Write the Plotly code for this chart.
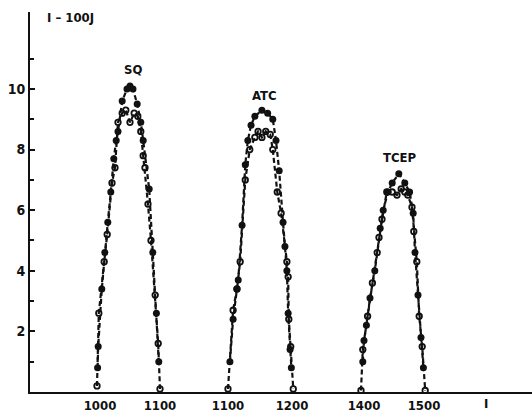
import plotly.graph_objects as go

# ---- data (wavenumber, intensity) ----
sq_filled_x = [996, 997, 1003, 1008, 1013, 1018, 1023, 1027, 1030, 1037, 1045, 1050, 1055, 1062, 1068, 1072, 1082, 1088, 1094, 1098]
sq_filled_y = [0.8, 1.5, 3.4, 4.6, 5.6, 6.6, 7.7, 8.3, 8.6, 9.6, 10.0, 10.1, 10.0, 9.5, 8.9, 8.3, 6.7, 4.6, 2.6, 1.0]
sq_open_x = [995, 998, 1007, 1012, 1020, 1025, 1030, 1037, 1043, 1050, 1057, 1063, 1068, 1072, 1075, 1080, 1085, 1092, 1097, 1100]
sq_open_y = [0.2, 2.6, 4.3, 5.2, 6.9, 7.4, 8.9, 9.2, 9.3, 8.9, 9.2, 9.1, 8.6, 7.8, 7.4, 6.2, 5.0, 3.2, 1.6, 0.1]

atc_filled_x = [1103, 1108, 1114, 1116, 1122, 1127, 1131, 1136, 1142, 1153, 1162, 1170, 1175, 1180, 1186, 1189, 1192, 1194, 1197, 1199]
atc_filled_y = [1.0, 2.4, 3.4, 3.7, 5.5, 7.5, 8.3, 8.8, 9.1, 9.3, 9.2, 9.0, 8.3, 7.3, 5.6, 4.8, 4.0, 2.6, 1.4, 0.8]
atc_open_x = [1100, 1108, 1114, 1119, 1127, 1134, 1142, 1147, 1153, 1159, 1166, 1170, 1177, 1183, 1192, 1194, 1195, 1198, 1202]
atc_open_y = [0.1, 2.7, 3.4, 4.3, 7.0, 8.0, 8.4, 8.6, 8.4, 8.6, 8.5, 8.0, 6.6, 5.9, 4.3, 3.8, 2.4, 1.5, 0.1]

tcep_filled_x = [1398, 1400, 1404, 1410, 1418, 1427, 1432, 1440, 1447, 1458, 1468, 1476, 1482, 1485, 1490, 1495, 1499]
tcep_filled_y = [1.0, 1.7, 2.2, 3.1, 4.0, 5.4, 6.0, 6.6, 6.9, 7.2, 6.9, 6.6, 5.9, 4.6, 3.2, 1.8, 0.8]
tcep_open_x = [1395, 1398, 1406, 1414, 1422, 1425, 1430, 1438, 1447, 1455, 1462, 1468, 1473, 1480, 1483, 1488, 1492, 1497, 1502]
tcep_open_y = [0.05, 1.4, 2.5, 3.6, 4.6, 5.1, 5.7, 6.6, 6.6, 6.5, 6.7, 6.6, 6.5, 6.1, 5.3, 4.3, 2.5, 1.5, 0.05]

peak_names = ["SQ", "ATC", "TCEP"]
x_tick_vals = [[1000, 1100], [1100, 1200], [1400, 1500]]
x_tick_text = [["1000", "1100"], ["1100", "1200"], ["1400", "1500"]]
y_tick_vals = [2, 4, 6, 8, 10]
y_tick_text = ["2", "4", "6", "8", "10"]
y_minor_vals = [1, 3, 5, 7, 9, 11]

FONT = "Liberation Sans Narrow, DejaVu Sans Condensed, Arial Narrow, sans-serif"
INK = "#111111"

fig = go.Figure()

series = [
    ("x", sq_filled_x, sq_filled_y, sq_open_x, sq_open_y),
    ("x2", atc_filled_x, atc_filled_y, atc_open_x, atc_open_y),
    ("x3", tcep_filled_x, tcep_filled_y, tcep_open_x, tcep_open_y),
]
for xa, fx, fy, ox, oy in series:
    fig.add_trace(go.Scatter(
        x=fx, y=fy, xaxis=xa, yaxis="y", mode="lines+markers",
        line=dict(color=INK, width=2.2, dash="5px,3px"),
        marker=dict(symbol="circle", size=7, color=INK),
        showlegend=False, hoverinfo="skip"))
    fig.add_trace(go.Scatter(
        x=ox, y=oy, xaxis=xa, yaxis="y", mode="lines+markers",
        line=dict(color=INK, width=2.2, dash="5px,3px"),
        marker=dict(symbol="circle-open", size=5.5, color=INK, line=dict(width=1.8, color=INK)),
        showlegend=False, hoverinfo="skip"))

xcommon = dict(showgrid=False, zeroline=False, showline=True, linecolor=INK, linewidth=2,
               ticks="", tickmode="array",
               tickfont=dict(family=FONT, size=13, color=INK), ticklabelstandoff=0)

fig.update_layout(
    width=532, height=414,
    margin=dict(l=30, r=0, t=12, b=22),
    paper_bgcolor="white", plot_bgcolor="white",
    xaxis=dict(domain=[0, 0.3187], range=[883.33, 1150], anchor="y",
               tickvals=x_tick_vals[0], ticktext=["<b>%s</b>" % t for t in x_tick_text[0]], **xcommon),
    xaxis2=dict(domain=[0.3187, 0.5976], range=[1040.625, 1259.375], anchor="y",
                tickvals=x_tick_vals[1], ticktext=["<b>%s</b>" % t for t in x_tick_text[1]], **xcommon),
    xaxis3=dict(domain=[0.5976, 1], range=[1343.33, 1680], anchor="y",
                tickvals=x_tick_vals[2], ticktext=["<b>%s</b>" % t for t in x_tick_text[2]], **xcommon),
    yaxis=dict(range=[0, 12.54], anchor="x", showgrid=False, zeroline=False,
               showline=True, linecolor=INK, linewidth=2,
               tickmode="array", tickvals=y_tick_vals,
               ticktext=["<b>%s</b>" % t for t in y_tick_text],
               ticks="inside", ticklen=5, tickwidth=2, tickcolor=INK,
               minor=dict(tickmode="array", tickvals=y_minor_vals, ticks="inside",
                          ticklen=4, tickwidth=1.5, tickcolor=INK),
               tickfont=dict(family=FONT, size=14, color=INK)),
)

label_pos = [("x", 1055, 10.65), ("x2", 1157, 9.8), ("x3", 1460, 7.75)]
for name, (xa, lx, ly) in zip(peak_names, label_pos):
    fig.add_annotation(x=lx, y=ly, xref=xa, yref="y", text="<b>%s</b>" % name,
                       showarrow=False, font=dict(family=FONT, size=13, color=INK))

fig.add_annotation(x=(70 - 30) / 502, y=(392 - 17) / 380, xref="paper", yref="paper",
                   text="<b>I – 100J</b>", xanchor="center", yanchor="middle",
                   showarrow=False, font=dict(family=FONT, size=13, color=INK))
fig.add_annotation(x=(490 - 30) / 502, y=(392 - 403) / 380, xref="paper", yref="paper", text="<b>I</b>",
                   showarrow=False, yanchor="middle", font=dict(family=FONT, size=13, color=INK))

fig.write_html("out.html", config={"displayModeBar": False},
               post_script="document.body.style.margin='0';document.body.style.overflow='hidden';")
